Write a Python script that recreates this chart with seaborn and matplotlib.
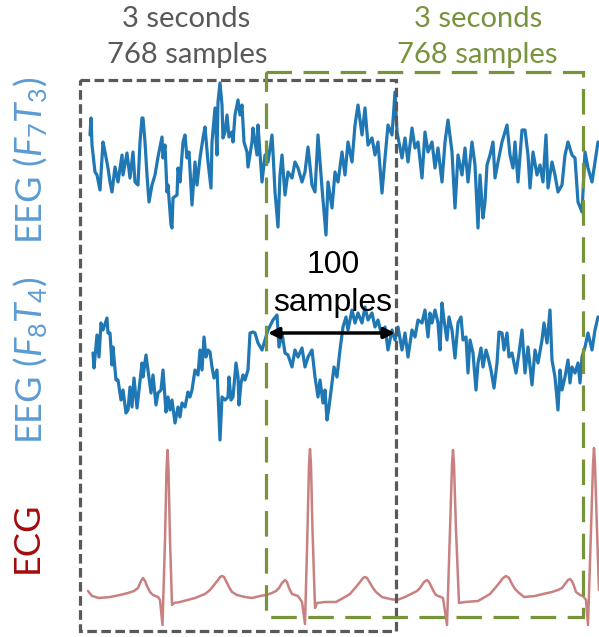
import matplotlib
matplotlib.use("Agg")
import matplotlib.pyplot as plt
import seaborn as sns
from matplotlib.patches import Rectangle

sns.set_theme(style="white")
plt.rcParams['font.family'] = ['Lato', 'DejaVu Sans']
plt.rcParams['mathtext.fontset'] = 'custom'
plt.rcParams['mathtext.rm'] = 'Lato'
plt.rcParams['mathtext.it'] = 'Lato:italic'

# sample position and amplitude of each trace
eeg1_t = [90, 91, 92, 95, 97, 100, 103, 105, 108, 110, 112, 115, 118, 122, 123, 127, 130, 133, 135, 138,
          140, 142, 143, 145, 147, 149, 152, 155, 158, 162, 163, 165, 167, 168, 171, 172, 173, 177, 178, 180,
          183, 185, 187, 189, 192, 195, 197, 200, 203, 205, 208, 211, 212, 215, 217, 218, 220, 222, 223, 225,
          227, 229, 232, 233, 235, 238, 240, 242, 244, 247, 248, 252, 253, 257, 258,
          262, 265, 268, 272, 273, 275, 278, 280, 282, 285, 288, 292, 295, 298, 302, 305, 308, 312, 315, 318,
          322, 326, 328, 332, 335, 338, 342, 345, 348, 352, 355, 358, 362, 365, 368, 372, 375, 378, 382, 385,
          388, 392, 395, 397, 402, 405, 408, 412, 415, 418, 422,
          425, 428, 432, 435, 438, 442, 445, 448, 452, 455, 458, 462, 465, 468, 472, 475, 478, 480, 483, 485,
          487, 490, 493, 495, 498, 502, 507, 510, 513, 515, 518, 522, 525, 528, 530, 533, 537, 540, 543, 546,
          548, 552, 555, 558, 562, 565, 568, 572, 575, 578, 582, 585, 588, 592, 595, 598]
eeg1_v = [25, 42, 15, -12, -15, -30, 18, 8, -8, -22, -32, -7, -22, 5, -15, 7, -18, 8, -22, -25,
          18, 42, 42, 18, -15, -42, -25, -15, 3, 23, 2, 15, -32, -25, -65, -68, -38, -35, -8, -22,
          18, 25, 2, 8, -45, -2, -25, 2, 22, 33, -2, -28, 18, 52, 5, 58, 77, 55, 22, 28,
          45, 23, 28, 18, 45, 60, 45, 55, 18, 8, -7, 18, 32, 5, 35,
          -22, 5, -2, 25, 8, -32, -67, -15, 5, -35, -12, -18, -2, -8, -22, -12, 13, -25, -32, 25,
          -28, -75, -22, -48, -12, -22, 8, -15, 18, -2, 35, 55, 25, 52, 15, 22, 5, 18, -33, 2,
          35, 25, 68, 28, 2, 22, -2, 32, 12, 18, -18,
          28, 8, 18, -8, 12, -22, 18, 40, 8, -48, 5, -15, 12, -22, 18, -5, -68, -15, -58, -42,
          -5, 5, 18, -18, -2, 18, 35, 5, -8, 18, -22, 30, 30, 5, -28, 8, -15, -5, -22, 25,
          -28, -2, -15, -32, -25, 5, 18, 5, 2, -42, -52, 8, -8, -22, -2, 18]

eeg2_t = [93, 94, 97, 99, 101, 103, 107, 108, 110, 112, 113, 116, 118, 121, 123, 126, 128, 130, 132, 134,
          137, 139, 142, 143, 146, 148, 151, 153, 156, 158, 161, 163, 166, 168, 170, 172, 175, 178, 180, 182,
          185, 188, 190, 192, 195, 198, 200, 202, 204, 206, 208, 210, 212, 214, 217, 220, 222, 225, 228, 229,
          231, 233, 236, 238, 239, 241, 243, 245, 248, 250, 253,
          255, 258, 262, 265, 268, 273, 277, 279, 282, 285, 288, 292, 295, 298, 302, 305, 308, 312, 315, 318,
          320, 323, 325, 327, 329, 332, 334, 337, 340, 343, 346, 348, 352, 355, 358, 362, 365, 368, 372, 375,
          378, 382, 385, 388, 392, 395, 398, 402, 405, 408, 412, 415, 418, 422,
          425, 428, 430, 432, 435, 438, 440, 442, 444, 447, 449, 452, 455, 458, 461, 463, 466, 468, 470, 473,
          476, 478, 481, 483, 486, 488, 491, 494, 497, 499, 502, 504, 507, 509, 512, 516, 519, 522, 525, 528,
          532, 535, 538, 542, 544, 547, 550, 552, 555, 558, 560, 562, 565, 568, 570, 572, 575, 578, 580, 582,
          585, 588, 592, 595, 598]
eeg2_v = [17, 2, 35, 13, 47, 40, 52, 37, 37, 5, 23, -10, -10, -30, -20, -43, -40, -17, -37, -8,
          -38, -20, 7, -7, 15, 0, -23, -5, -35, -23, -20, 0, -42, -27, -40, -30, -53, -37, -47, -33,
          -37, -22, -27, -20, 0, -5, 20, 0, 33, 13, 20, 18, 3, -8, 0, -70, -27, -30, -27, -7,
          -30, -27, 7, -7, -35, -13, -5, -10, 0, 37, 38,
          37, 27, 20, 30, 40, 50, 55, 23, 37, 17, 15, 3, 20, 13, 22, 3, 13, 20, -7, -27,
          -10, -33, -20, -50, -37, -13, 3, -7, 20, 43, 53, 40, 60, 47, 57, 47, 63, 50, 57, 43,
          50, 33, 43, 20, 40, 30, 43, 20, 37, 13, 40, 33, 50, 47,
          60, 33, 57, 47, 60, 47, 20, 67, 50, 30, 53, 40, 12, 47, 53, 30, 33, -3, 30, 17,
          -20, 7, 22, 3, 20, 13, 0, -18, 7, 38, 37, 20, 37, 13, 17, -3, 17, 40, -3, 23,
          -15, 20, 7, 30, 47, 27, 60, 10, -7, -40, 0, -20, -7, 10, -13, 3, -3, 7, -13, 13,
          23, 37, 20, 40, 53]

ecg_t = [88, 92, 99, 110, 120, 128, 134, 138, 141, 143, 145, 147, 150, 153, 158, 160, 162.5, 165, 166.5, 167.5,
         168.5, 170, 172, 174, 180, 195, 205, 210, 214, 218, 220, 222, 224, 226, 229, 232, 237, 245, 252, 260,
         266, 272, 276, 279, 282, 285, 287, 289, 292, 298, 302, 305, 307.5, 309, 310, 311, 312.5, 315, 317, 325,
         336, 345, 350, 356, 360, 363, 365, 367, 370, 373, 376, 382, 390, 397, 405, 413, 417, 420, 424, 427,
         429, 431, 434, 436, 443, 447, 450, 452, 453, 454, 456, 459, 465, 478, 485, 490, 496, 500, 503, 506,
         509, 512, 515, 518, 524, 535, 543, 552, 558, 562, 565, 568, 570, 572, 574, 576, 580, 583, 586, 588,
         591, 593, 594, 595, 597, 599]
ecg_v = [9, 4, 2, 3, 5, 7, 9, 12, 19, 22, 19, 14, 8, 5, 3, 0, -25, 60, 130, 150,
         130, 60, -5, -3, -2, 2, 6, 10, 15, 20, 23, 24, 23, 19, 13, 8, 5, 3, 2, 4,
         5, 7, 9, 12, 17, 20, 18, 12, 6, 4, -2, -24, 70, 135, 151, 135, 70, -8, -3, -2,
         -2, 3, 6, 13, 18, 22, 23, 22, 17, 12, 8, 3, 1, 0, 3, 7, 9, 12, 18, 20,
         18, 14, 8, 5, 2, -25, 70, 135, 150, 135, 70, -3, -2, -1, 3, 6, 13, 18, 22, 24,
         22, 16, 11, 8, 3, 4, 6, 8, 10, 12, 16, 20, 21, 19, 14, 8, 5, 4, 0, -25,
         70, 135, 152, 135, 70, 10]

window_text = ["3 seconds", "768 samples"]
step_text = ["100", "samples"]

fig = plt.figure(figsize=(5.99, 6.37), dpi=100)
ax = fig.add_axes([0, 0, 1, 1])
ax.set_xlim(0, 599)
ax.set_ylim(637, 0)
ax.axis("off")

blue = "#1f77b4"
sns.lineplot(x=eeg1_t, y=[160 - v for v in eeg1_v], ax=ax, color=blue, lw=2.3,
             sort=False, estimator=None)
sns.lineplot(x=eeg2_t, y=[370 - v for v in eeg2_v], ax=ax, color=blue, lw=2.3,
             sort=False, estimator=None)
sns.lineplot(x=ecg_t, y=[600 - v for v in ecg_v], ax=ax, color="#c98080", lw=1.8,
             sort=False, estimator=None)

gray = "#595959"
green = "#77933C"
ax.add_patch(Rectangle((80, 80), 316, 551, fill=False, ec=gray, lw=2.3,
                       ls=(0, (3, 1.4)), zorder=5))
ax.add_patch(Rectangle((266, 72), 317, 545, fill=False, ec=green, lw=2.3,
                       ls=(0, (8, 3.6)), zorder=5))

ax.text(186, 27, window_text[0], color=gray, fontsize=21, ha="center", va="baseline")
ax.text(187, 63, window_text[1], color=gray, fontsize=21, ha="center", va="baseline")
ax.text(478, 27, window_text[0], color=green, fontsize=21, ha="center", va="baseline")
ax.text(477, 63, window_text[1], color=green, fontsize=21, ha="center", va="baseline")

label_blue = "#5B9BD5"
ax.text(31, 160, r"EEG ($F_7T_3$)", color=label_blue, fontsize=26, rotation=90,
        ha="center", va="center")
ax.text(31, 360, r"EEG ($F_8T_4$)", color=label_blue, fontsize=26, rotation=90,
        ha="center", va="center")
ax.text(27, 537, "ECG", color="#A50A0A", fontsize=26, rotation=90,
        ha="center", va="center")

ax.annotate("", xy=(268, 333), xytext=(395, 333),
            arrowprops=dict(arrowstyle="<|-|>", color="black", lw=2.5,
                            mutation_scale=16, shrinkA=0, shrinkB=0), zorder=6)
ax.text(333, 273, step_text[0], color="black", fontsize=23, ha="center",
        va="baseline", family="Liberation Sans", zorder=6)
ax.text(333, 311, step_text[1], color="black", fontsize=23, ha="center",
        va="baseline", family="Liberation Sans", zorder=6)

fig.savefig("out.png", dpi=100)
